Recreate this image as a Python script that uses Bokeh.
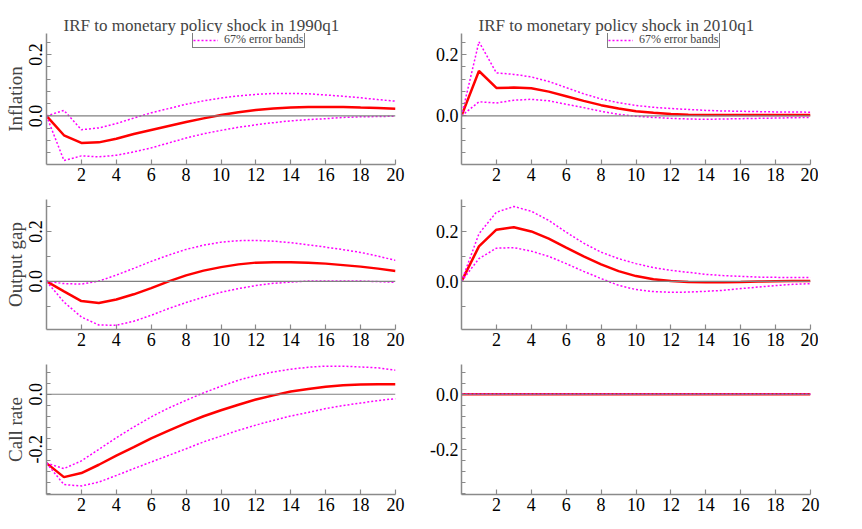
from bokeh.plotting import figure
from bokeh.layouts import gridplot
from bokeh.models import (FixedTicker, Span, Legend, LegendItem, Range1d,
                          PrintfTickFormatter)
from bokeh.embed import file_html
from bokeh.resources import INLINE

horizon = list(range(21))
x_ticks = [2, 4, 6, 8, 10, 12, 14, 16, 18, 20]

titles = ["IRF to monetary policy shock in 1990q1",
          "IRF to monetary policy shock in 2010q1"]
row_labels = ["Inflation", "Output gap", "Call rate"]
band_label = "67% error bands"

# Inflation
infl_1990_med = [0.0, -0.063, -0.088, -0.086, -0.074, -0.059, -0.046, -0.033, -0.020, -0.008, 0.003,
                 0.012, 0.019, 0.024, 0.027, 0.029, 0.029, 0.029, 0.027, 0.026, 0.023]
infl_1990_up = [0.0, 0.018, -0.045, -0.039, -0.025, -0.007, 0.010, 0.024, 0.038, 0.049, 0.058,
                0.065, 0.070, 0.073, 0.073, 0.072, 0.068, 0.064, 0.059, 0.053, 0.048]
infl_1990_lo = [0.0, -0.145, -0.130, -0.133, -0.128, -0.117, -0.104, -0.088, -0.072, -0.058, -0.047,
                -0.037, -0.029, -0.022, -0.016, -0.012, -0.009, -0.005, -0.003, -0.002, -0.001]
infl_2010_med = [0.0, 0.146, 0.091, 0.092, 0.090, 0.079, 0.064, 0.049, 0.035, 0.024, 0.015,
                 0.010, 0.006, 0.004, 0.003, 0.003, 0.003, 0.003, 0.003, 0.003, 0.003]
infl_2010_up = [0.0, 0.241, 0.140, 0.135, 0.127, 0.112, 0.092, 0.072, 0.055, 0.043, 0.034,
                0.028, 0.024, 0.021, 0.018, 0.016, 0.015, 0.014, 0.013, 0.013, 0.012]
infl_2010_lo = [0.0, 0.046, 0.042, 0.051, 0.054, 0.049, 0.038, 0.027, 0.015, 0.005, -0.001,
                -0.005, -0.008, -0.010, -0.011, -0.010, -0.009, -0.008, -0.007, -0.006, -0.005]

# Output gap
gap_1990_med = [0.0, -0.040, -0.079, -0.087, -0.073, -0.052, -0.027, 0.000, 0.024, 0.043, 0.057,
                0.068, 0.075, 0.077, 0.077, 0.075, 0.071, 0.065, 0.059, 0.051, 0.041]
gap_1990_up = [0.0, -0.009, -0.011, 0.001, 0.025, 0.052, 0.080, 0.105, 0.128, 0.145, 0.157,
               0.163, 0.164, 0.161, 0.155, 0.146, 0.137, 0.127, 0.116, 0.101, 0.084]
gap_1990_lo = [0.0, -0.083, -0.143, -0.175, -0.176, -0.160, -0.136, -0.109, -0.085, -0.063, -0.044,
               -0.029, -0.017, -0.008, -0.003, 0.001, 0.001, 0.001, 0.001, -0.001, -0.004]
gap_2010_med = [0.0, 0.140, 0.207, 0.217, 0.200, 0.171, 0.135, 0.100, 0.068, 0.041, 0.021,
                0.008, 0.001, -0.003, -0.004, -0.004, -0.003, -0.001, 0.000, 0.001, 0.001]
gap_2010_up = [0.0, 0.191, 0.277, 0.300, 0.281, 0.244, 0.197, 0.153, 0.117, 0.091, 0.071,
               0.055, 0.044, 0.036, 0.028, 0.023, 0.020, 0.017, 0.016, 0.015, 0.015]
gap_2010_lo = [0.0, 0.091, 0.133, 0.135, 0.121, 0.100, 0.071, 0.040, 0.011, -0.016, -0.033,
               -0.041, -0.044, -0.043, -0.040, -0.036, -0.029, -0.023, -0.017, -0.012, -0.009]

# Call rate
rate_1990_med = [-0.250, -0.301, -0.286, -0.256, -0.223, -0.192, -0.160, -0.132, -0.105, -0.080, -0.058,
                 -0.038, -0.019, -0.004, 0.010, 0.019, 0.027, 0.033, 0.035, 0.036, 0.036]
rate_1990_up = [-0.250, -0.270, -0.242, -0.200, -0.158, -0.119, -0.082, -0.050, -0.022, 0.005, 0.029,
                0.051, 0.068, 0.081, 0.091, 0.098, 0.102, 0.102, 0.099, 0.096, 0.087]
rate_1990_lo = [-0.250, -0.328, -0.333, -0.319, -0.295, -0.270, -0.246, -0.222, -0.198, -0.173, -0.152,
                -0.131, -0.112, -0.095, -0.079, -0.066, -0.052, -0.041, -0.032, -0.023, -0.016]
rate_2010_med = [0.0] * 21
rate_2010_up = [0.0] * 21
rate_2010_lo = [0.0] * 21

# y axis setup per row
y_ranges = [(-0.158, 0.268), (-0.193, 0.328), (-0.364, 0.108)]
y_major = [[0.0, 0.2], [0.0, 0.2], [-0.2, 0.0]]
y_minor = [[-0.12, -0.08, -0.04, 0.04, 0.08, 0.12, 0.16, 0.24],
           [-0.1, 0.1, 0.3],
           [-0.36, -0.32, -0.28, -0.24, -0.16, -0.12, -0.08, -0.04, 0.04, 0.08]]

series = [
    [(infl_1990_med, infl_1990_up, infl_1990_lo), (infl_2010_med, infl_2010_up, infl_2010_lo)],
    [(gap_1990_med, gap_1990_up, gap_1990_lo), (gap_2010_med, gap_2010_up, gap_2010_lo)],
    [(rate_1990_med, rate_1990_up, rate_1990_lo), (rate_2010_med, rate_2010_up, rate_2010_lo)],
]

FONT = "Liberation Serif"
AXIS_GRAY = "#8a8a8a"


def make_panel(r, c):
    med, up, lo = series[r][c]
    kw = dict(
        frame_width=349, frame_height=131 if r == 0 else 130,
        x_range=Range1d(0, 20), y_range=Range1d(*y_ranges[r]),
        output_backend="svg", toolbar_location=None,
        min_border_left=46 if c == 0 else 32,
        min_border_right=32 if c == 0 else 10,
        min_border_top=33 if r == 0 else 11,
        min_border_bottom=24,
    )
    if r == 0:
        kw["title"] = titles[c]
    p = figure(**kw)
    p.outline_line_color = None
    p.grid.visible = False
    p.background_fill_color = "white"
    p.border_fill_color = "white"

    if r == 0:
        p.title.text_font = FONT
        p.title.text_font_size = "17px"
        p.title.text_font_style = "normal"
        p.title.align = "left"
        p.title.offset = 17
        p.title.standoff = -2

    p.add_layout(Span(location=0, dimension="width", line_color="#808080", line_width=1.2))

    p.line(horizon, med, line_color="#ff0000", line_width=2.5)
    r_up = p.line(horizon, up, line_color="#ff00ff", line_width=1.5, line_dash="2 2")
    p.line(horizon, lo, line_color="#ff00ff", line_width=1.5, line_dash="2 2")

    for ax in (p.xaxis[0], p.yaxis[0]):
        ax.axis_line_color = AXIS_GRAY
        ax.axis_line_width = 1.5
        ax.major_tick_line_color = AXIS_GRAY
        ax.minor_tick_line_color = AXIS_GRAY
        ax.major_tick_line_width = 1.2
        ax.minor_tick_line_width = 1.2
        ax.major_tick_in = 5
        ax.major_tick_out = 0
        ax.minor_tick_in = 4
        ax.minor_tick_out = 0
        ax.major_label_text_font = FONT
        ax.major_label_text_font_size = "18px"
        ax.major_label_text_color = "black"

    p.xaxis.ticker = FixedTicker(ticks=x_ticks, minor_ticks=[])
    p.xaxis.major_label_standoff = 3
    p.yaxis.ticker = FixedTicker(ticks=y_major[r], minor_ticks=y_minor[r])
    p.yaxis.formatter = PrintfTickFormatter(format="%.1f")
    if c == 0:
        p.yaxis.major_label_orientation = "parallel"
        p.yaxis.major_label_standoff = 4
        p.yaxis.axis_label = row_labels[r]
        p.yaxis.axis_label_text_font = FONT
        p.yaxis.axis_label_text_font_size = "19px"
        p.yaxis.axis_label_text_font_style = "normal"
        p.yaxis.axis_label_standoff = 1
    else:
        p.yaxis.major_label_standoff = 3

    if r == 0:
        legend = Legend(items=[LegendItem(label=band_label, renderers=[r_up])],
                        location=(146, 116), orientation="horizontal",
                        padding=0, margin=0, spacing=0,
                        glyph_width=25, glyph_height=12, label_standoff=6,
                        label_height=15, label_width=80,
                        label_text_font=FONT, label_text_font_size="12px",
                        label_text_baseline="middle",
                        border_line_color="black", border_line_width=1,
                        background_fill_color="white", background_fill_alpha=1.0)
        p.add_layout(legend)
    return p


panels = [[make_panel(r, c) for c in range(2)] for r in range(3)]
grid = gridplot(panels, toolbar_location=None)

open("out.html", "w").write(file_html(grid, INLINE))
